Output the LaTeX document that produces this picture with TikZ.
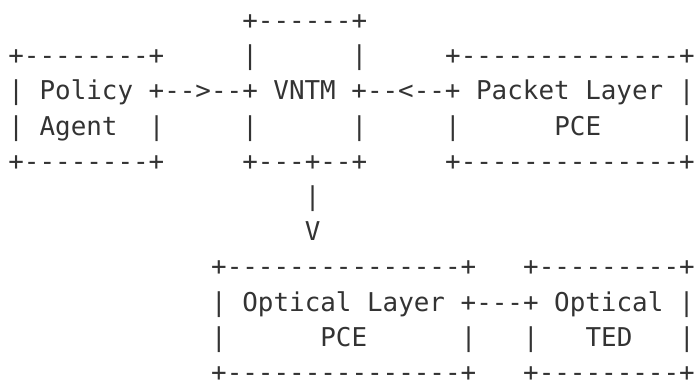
\documentclass[tikz,border=0pt]{standalone}
\usepackage{fontspec}
\setmonofont{DejaVu Sans Mono}
\definecolor{ink}{HTML}{333333}
\begin{document}
\begin{tikzpicture}
  [x=15.6pt,y=-35.2pt,every node/.style={anchor=base west,inner sep=0pt,text=ink,
   text depth=0pt,font=\ttfamily\fontsize{25.9}{30}\selectfont}]
  \useasboundingbox (-8.2pt,29.5pt) rectangle (688.8pt,-355.5pt);
  % VNTM, Policy Agent, Packet Layer PCE
  \node (vntmtop) at (15,0) {+------+};
  \node (agenttop) at (0,1) {+--------+};
  \node (vntml1) at (15,1) {|};
  \node (vntmr1) at (22,1) {|};
  \node (pkttop) at (28,1) {+--------------+};
  \node (midrow) at (0,2) {| Policy +-->--+ VNTM +--<--+ Packet Layer |};
  \node (agentl) at (0,3) {| Agent};
  \node (agentr) at (9,3) {|};
  \node (vntml2) at (15,3) {|};
  \node (vntmr2) at (22,3) {|};
  \node (pktl) at (28,3) {|};
  \node (pktpce) at (35,3) {PCE};
  \node (pktr) at (43,3) {|};
  \node (agentbot) at (0,4) {+--------+};
  \node (vntmbot) at (15,4) {+---+--+};
  \node (pktbot) at (28,4) {+--------------+};
  % down link
  \node (down) at (19,5) {|};
  \node (head) at (19,6) {V};
  % Optical Layer PCE, Optical TED
  \node (opttop) at (13,7) {+---------------+};
  \node (tedtop) at (33,7) {+---------+};
  \node (optrow) at (13,8) {| Optical Layer +---+ Optical |};
  \node (optl) at (13,9) {|};
  \node (optpce) at (20,9) {PCE};
  \node (optr) at (29,9) {|};
  \node (tedl) at (33,9) {|};
  \node (ted) at (37,9) {TED};
  \node (tedr) at (43,9) {|};
  \node (optbot) at (13,10) {+---------------+};
  \node (tedbot) at (33,10) {+---------+};
\end{tikzpicture}
\end{document}
